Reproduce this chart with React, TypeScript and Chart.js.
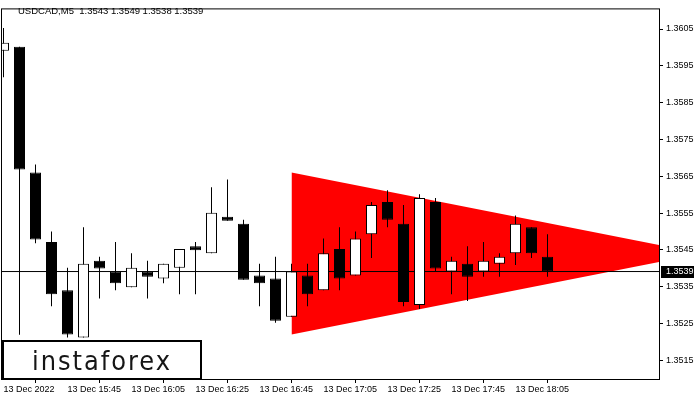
import React, { useEffect, useRef } from "react";
import { Chart, registerables } from "chart.js";

Chart.register(...registerables);

// ---- data ----
const symbolName = "USDCAD,M5";
const opens = [
  1.35991, 1.36002, 1.3566, 1.35471, 1.3534, 1.35212, 1.3542, 1.35391, 1.35348, 1.35391,
  1.35372, 1.35401, 1.3546, 1.35441, 1.3554, 1.35521, 1.3538, 1.35372, 1.35268, 1.3538,
  1.3534, 1.35452, 1.3538, 1.35492, 1.3558, 1.35521, 1.353, 1.3558, 1.35391, 1.35412,
  1.35391, 1.35412, 1.35441, 1.35511, 1.35431,
];
const highs = [
  1.36053, 1.36002, 1.35682, 1.355, 1.35401, 1.35511, 1.35431, 1.35471, 1.35441, 1.3542,
  1.35412, 1.35452, 1.35471, 1.3562, 1.35641, 1.35532, 1.35412, 1.35431, 1.35412, 1.35412,
  1.35481, 1.35511, 1.355, 1.3558, 1.35612, 1.35572, 1.35601, 1.35591, 1.35431, 1.3546,
  1.35471, 1.35441, 1.35543, 1.35511, 1.35492,
];
const lows = [
  1.35919, 1.35219, 1.35468, 1.35297, 1.35212, 1.35212, 1.35318, 1.3534, 1.35348, 1.35318,
  1.35359, 1.35329, 1.35329, 1.35441, 1.35529, 1.35369, 1.35297, 1.35252, 1.35268, 1.35297,
  1.3534, 1.3534, 1.3538, 1.35428, 1.35511, 1.35297, 1.35289, 1.35391, 1.35329, 1.35311,
  1.35377, 1.35377, 1.35409, 1.35428, 1.35377,
];
const closes = [
  1.36013, 1.35668, 1.35478, 1.35329, 1.3522, 1.35412, 1.35399, 1.35359, 1.35401, 1.35377,
  1.35412, 1.35452, 1.35449, 1.35551, 1.35529, 1.35369, 1.35359, 1.35257, 1.35391, 1.35329,
  1.35441, 1.35372, 1.35481, 1.35572, 1.35532, 1.35308, 1.35591, 1.35399, 1.3542, 1.35377,
  1.3542, 1.35431, 1.35521, 1.35441, 1.35391,
];
const timeTickIndices = [0, 4, 8, 12, 16, 20, 24, 28, 32];
const timeTickLabels = [
  "13 Dec 2022",
  "13 Dec 15:45",
  "13 Dec 16:05",
  "13 Dec 16:25",
  "13 Dec 16:45",
  "13 Dec 17:05",
  "13 Dec 17:25",
  "13 Dec 17:45",
  "13 Dec 18:05",
];
const priceTicks = [1.3515, 1.3525, 1.3535, 1.3545, 1.3555, 1.3565, 1.3575, 1.3585, 1.3595, 1.3605];
const triangleX = [18, 41];
const triangleUpper = [1.3566, 1.35463];
const triangleLower = [1.3522, 1.35417];

// ---- view range ----
const X_MIN = -0.15625;
const X_MAX = 40.96875;
const Y_MIN = 1.35099;
const Y_MAX = 1.36106;

const FONT = "'Liberation Sans', Arial, sans-serif";

const overlayPlugin = {
  id: "mtOverlay",
  afterDraw(chart: any) {
    const ctx = chart.ctx as CanvasRenderingContext2D;
    const a = chart.chartArea;
    ctx.save();
    // logo box
    ctx.fillStyle = "#ffffff";
    ctx.fillRect(3, 341, 198, 38);
    ctx.strokeStyle = "#000000";
    ctx.lineWidth = 2;
    ctx.strokeRect(3, 341, 198, 38);
    ctx.fillStyle = "#151515";
    ctx.font = "27px 'DejaVu Sans Condensed', 'DejaVu Sans', sans-serif";
    (ctx as any).letterSpacing = "2px";
    ctx.textAlign = "left";
    ctx.textBaseline = "alphabetic";
    ctx.fillText("instaforex", 32, 370, 140);
    (ctx as any).letterSpacing = "0px";

    // frame
    ctx.lineWidth = 1;
    ctx.strokeStyle = "#000000";
    ctx.strokeRect(a.left + 0.5, a.top + 0.5, a.right - a.left, a.bottom - a.top);

    // header
    const n = closes.length - 1;
    const header =
      symbolName +
      "  " +
      [opens[n], highs[n], lows[n], closes[n]].map((v) => v.toFixed(4)).join(" ");
    ctx.fillStyle = "#000000";
    ctx.font = "9.5px " + FONT;
    ctx.textBaseline = "middle";
    ctx.fillText(header, 18, 11);

    // current price label
    const y = chart.scales.y.getPixelForValue(closes[n]);
    ctx.fillStyle = "#000000";
    ctx.fillRect(661, Math.round(y) - 6, 33, 12);
    ctx.fillStyle = "#ffffff";
    ctx.font = "9px " + FONT;
    ctx.fillText(closes[n].toFixed(4), 666, Math.round(y));
    ctx.restore();
  },
};

export default function App() {
  const ref = useRef<HTMLCanvasElement | null>(null);

  useEffect(() => {
    if (!ref.current) return;
    const bodies = opens.map((o, i) => ({ x: i, y: [o, closes[i]] }));
    const wicks = lows.map((l, i) => ({ x: i, y: [l, highs[i]] }));
    const n = closes.length - 1;

    const chart = new Chart(ref.current, {
      type: "bar",
      data: {
        datasets: [
          {
            type: "bar",
            label: "body",
            data: bodies as any,
            grouped: false,
            categoryPercentage: 1,
            barPercentage: 1,
            maxBarThickness: 11,
            borderWidth: 1,
            borderColor: "#000000",
            borderSkipped: false,
            inflateAmount: 0,
            backgroundColor: (c: any) =>
              closes[c.dataIndex] >= opens[c.dataIndex] ? "#ffffff" : "#000000",
            order: 0,
          } as any,
          {
            type: "bar",
            label: "wick",
            data: wicks as any,
            grouped: false,
            categoryPercentage: 1,
            barPercentage: 1,
            maxBarThickness: 1,
            borderWidth: 0,
            inflateAmount: 0,
            backgroundColor: "#000000",
            order: 1,
          } as any,
          {
            type: "line",
            label: "price",
            data: [
              { x: X_MIN, y: closes[n] },
              { x: X_MAX, y: closes[n] },
            ],
            borderColor: "#000000",
            borderWidth: 1,
            pointRadius: 0,
            fill: false,
            order: 2,
          } as any,
          {
            type: "line",
            label: "upper",
            data: triangleX.map((x, i) => ({ x, y: triangleUpper[i] })),
            borderColor: "rgba(0,0,0,0)",
            borderWidth: 0,
            pointRadius: 0,
            fill: false,
            order: 3,
          } as any,
          {
            type: "line",
            label: "lower",
            data: triangleX.map((x, i) => ({ x, y: triangleLower[i] })),
            borderColor: "rgba(0,0,0,0)",
            borderWidth: 0,
            pointRadius: 0,
            fill: "-1",
            backgroundColor: "#ff0000",
            order: 4,
          } as any,
        ],
      },
      options: {
        responsive: false,
        animation: false,
        events: [],
        layout: { padding: { left: 1, top: 2, right: 0, bottom: 0 } },
        plugins: {
          legend: { display: false },
          tooltip: { enabled: false },
        },
        scales: {
          x: {
            type: "linear",
            min: X_MIN,
            max: X_MAX,
            offset: false,
            afterBuildTicks: (s: any) => {
              s.ticks = timeTickIndices.map((v) => ({ value: v }));
            },
            afterFit: (s: any) => {
              s.height = 21;
            },
            grid: {
              drawOnChartArea: false,
              drawTicks: true,
              tickLength: 4,
              color: "#000000",
              lineWidth: 1,
            },
            border: { display: false },
            ticks: {
              autoSkip: false,
              maxRotation: 0,
              align: "start",
              padding: 1,
              color: "#000000",
              font: { family: FONT, size: 9 },
              callback: (_v: any, i: number) => timeTickLabels[i],
            },
          },
          y: {
            type: "linear",
            position: "right",
            min: Y_MIN,
            max: Y_MAX,
            afterBuildTicks: (s: any) => {
              s.ticks = priceTicks.map((v) => ({ value: v }));
            },
            afterFit: (s: any) => {
              s.width = 41;
            },
            grid: {
              drawOnChartArea: false,
              drawTicks: true,
              tickLength: 4,
              color: "#000000",
              lineWidth: 1,
            },
            border: { display: false },
            ticks: {
              padding: 3,
              color: "#000000",
              font: { family: FONT, size: 9 },
              callback: (v: any) => Number(v).toFixed(4),
            },
          },
        },
      } as any,
      plugins: [overlayPlugin],
    });
    return () => chart.destroy();
  }, []);

  return (
    <div
      style={{
        position: "fixed",
        left: 0,
        top: 0,
        width: 700,
        height: 400,
        background: "#ffffff",
      }}
    >
      <canvas ref={ref} width={700} height={400} style={{ display: "block" }} />
    </div>
  );
}
